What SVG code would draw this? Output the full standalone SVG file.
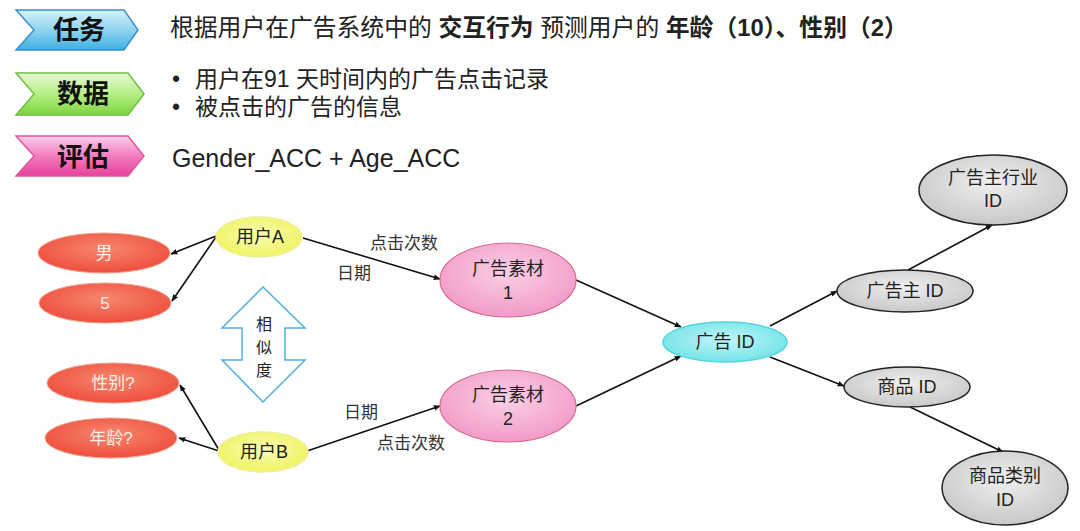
<svg xmlns="http://www.w3.org/2000/svg" width="1080" height="531" viewBox="0 0 1080 531">
<defs>
<linearGradient id="gBlue" x1="0" y1="0" x2="0" y2="1"><stop offset="0" stop-color="#d6f1fb"/><stop offset="0.5" stop-color="#8fd3f0"/><stop offset="1" stop-color="#3fb0e2"/></linearGradient>
<linearGradient id="gGreen" x1="0" y1="0" x2="0" y2="1"><stop offset="0" stop-color="#e6fbd2"/><stop offset="0.5" stop-color="#b6ee86"/><stop offset="1" stop-color="#7fd43e"/></linearGradient>
<linearGradient id="gPink" x1="0" y1="0" x2="0" y2="1"><stop offset="0" stop-color="#fbd0ea"/><stop offset="0.5" stop-color="#f47cc0"/><stop offset="1" stop-color="#e8409c"/></linearGradient>
<radialGradient id="gRed" cx="0.5" cy="0.4" r="0.6"><stop offset="0" stop-color="#f7876f"/><stop offset="1" stop-color="#ee4e3c"/></radialGradient>
<radialGradient id="gYellow" cx="0.5" cy="0.45" r="0.6"><stop offset="0" stop-color="#fafcb4"/><stop offset="1" stop-color="#eef35a"/></radialGradient>
<radialGradient id="gMat" cx="0.5" cy="0.4" r="0.6"><stop offset="0" stop-color="#fad0e6"/><stop offset="1" stop-color="#f29ac8"/></radialGradient>
<radialGradient id="gCyan" cx="0.5" cy="0.45" r="0.6"><stop offset="0" stop-color="#c2f6f6"/><stop offset="1" stop-color="#6ee2e8"/></radialGradient>
<radialGradient id="gGray" cx="0.5" cy="0.4" r="0.6"><stop offset="0" stop-color="#efefef"/><stop offset="1" stop-color="#c8c8c8"/></radialGradient>
<marker id="arr" viewBox="0 0 10 10" refX="9" refY="5" markerWidth="7" markerHeight="7" orient="auto" markerUnits="userSpaceOnUse"><path d="M0,1 L10,5 L0,9 z" fill="#111"/></marker>
</defs>
<style>
.hd{font-family:"Liberation Sans","Noto Sans CJK SC",sans-serif;font-size:23px;fill:#222;}
.b{font-weight:bold;}
.tag{font-family:"Noto Sans CJK SC",sans-serif;font-size:26px;font-weight:bold;fill:#111;text-anchor:middle;}
.lbl{font-family:"Liberation Sans","Noto Sans CJK SC",sans-serif;font-size:16px;fill:#222;text-anchor:middle;}
.big{font-size:18px;}
.wlbl{font-family:"Liberation Sans","Noto Sans CJK SC",sans-serif;font-size:17px;fill:#fdeee8;text-anchor:middle;}
.el{font-family:"Liberation Sans","Noto Sans CJK SC",sans-serif;font-size:17px;fill:#333;text-anchor:middle;}
.conn line{stroke:#111;stroke-width:1.6;marker-end:url(#arr);}
.red{fill:url(#gRed);stroke:#f0a090;stroke-width:1;}
.gray{fill:url(#gGray);stroke:#222;stroke-width:1.5;}
</style>
<rect width="1080" height="531" fill="#ffffff"/>

<g id="tag-task">
<path d="M16,10 L124,10 L138,30 L124,50 L16,50 L34,30 Z" fill="url(#gBlue)" stroke="#3a90c8" stroke-width="1.5"/>
<text x="79" y="39" class="tag">任务</text>
</g>
<g id="tag-data">
<path d="M16,73 L128,73 L144,94 L128,115 L16,115 L34,94 Z" fill="url(#gGreen)" stroke="#6cc040" stroke-width="1.5"/>
<text x="83" y="103" class="tag">数据</text>
</g>
<g id="tag-eval">
<path d="M16,136 L128,136 L144,156 L128,176 L16,176 L34,156 Z" fill="url(#gPink)" stroke="#e0589c" stroke-width="1.5"/>
<text x="83" y="166" class="tag">评估</text>
</g>

<text x="170" y="36" class="hd" style="font-size:23.8px">根据用户在广告系统中的 <tspan class="b">交互行为</tspan> 预测用户的 <tspan class="b">年龄（10）、性别（2）</tspan></text>
<text x="172" y="87" class="hd">•</text>
<text x="195" y="87" class="hd">用户在91 天时间内的广告点击记录</text>
<text x="172" y="115" class="hd">•</text>
<text x="195" y="115" class="hd">被点击的广告的信息</text>
<text x="172" y="167" style="font-family:'Liberation Sans',sans-serif;font-size:25px;fill:#222">Gender_ACC + Age_ACC</text>

<g id="connectors" class="conn">
<line x1="216" y1="236" x2="171" y2="254"/>
<line x1="216" y1="237" x2="172" y2="301"/>
<line x1="219" y1="450" x2="180" y2="385"/>
<line x1="219" y1="451" x2="179" y2="438"/>
<line x1="303" y1="238" x2="440" y2="279"/>
<line x1="307" y1="451" x2="440" y2="406"/>
<line x1="576" y1="280" x2="681" y2="327"/>
<line x1="576" y1="406" x2="681" y2="356"/>
<line x1="770" y1="326" x2="837" y2="291"/>
<line x1="908" y1="270" x2="992" y2="225"/>
<line x1="770" y1="357" x2="844" y2="386"/>
<line x1="910" y1="407" x2="1003" y2="452"/>
</g>
<g id="edge-labels">
<text x="404" y="249" class="el">点击次数</text>
<text x="354" y="279" class="el">日期</text>
<text x="361" y="418" class="el">日期</text>
<text x="411" y="449" class="el">点击次数</text>
</g>

<g id="node-male"><ellipse cx="104" cy="253" rx="66" ry="20" class="red"/><text x="104" y="259" class="wlbl">男</text></g>
<g id="node-5"><ellipse cx="105" cy="303" rx="66" ry="20" class="red"/><text x="105" y="309" class="wlbl">5</text></g>
<g id="node-gender"><ellipse cx="113" cy="383" rx="66" ry="20" class="red"/><text x="113" y="389" class="wlbl">性别?</text></g>
<g id="node-age"><ellipse cx="111" cy="438" rx="66" ry="20" class="red"/><text x="111" y="444" class="wlbl">年龄?</text></g>

<g id="node-userA"><ellipse cx="259" cy="237" rx="43" ry="20" fill="url(#gYellow)" stroke="#eef0a0" stroke-width="1.5"/><text x="260" y="243" class="lbl big">用户A</text></g>
<g id="node-userB"><ellipse cx="263" cy="452" rx="45" ry="20" fill="url(#gYellow)" stroke="#eef0a0" stroke-width="1.5"/><text x="264" y="458" class="lbl big">用户B</text></g>

<g id="similarity">
<path d="M263,287 L305,328 L285,328 L285,360 L305,360 L263,402 L222,360 L242,360 L242,328 L222,328 Z" fill="#ffffff" stroke="#4fb0e0" stroke-width="1.5"/>
<text x="264" y="330" class="lbl">相</text>
<text x="264" y="353" class="lbl">似</text>
<text x="264" y="376" class="lbl">度</text>
</g>

<g id="node-mat1"><ellipse cx="508" cy="280" rx="68" ry="37" fill="url(#gMat)" stroke="#d86a8a" stroke-width="1.2"/><text x="508" y="275" class="lbl big">广告素材</text><text x="508" y="299" class="lbl big">1</text></g>
<g id="node-mat2"><ellipse cx="508" cy="406" rx="68" ry="36" fill="url(#gMat)" stroke="#d86a8a" stroke-width="1.2"/><text x="508" y="401" class="lbl big">广告素材</text><text x="508" y="425" class="lbl big">2</text></g>

<g id="node-adid"><ellipse cx="725" cy="342" rx="62" ry="20" fill="url(#gCyan)" stroke="#52d6dc" stroke-width="1.5"/><text x="725" y="348" class="lbl big">广告 ID</text></g>
<g id="node-advertiser"><ellipse cx="905" cy="291" rx="68" ry="21" class="gray"/><text x="905" y="297" class="lbl big">广告主 ID</text></g>
<g id="node-industry"><ellipse cx="993" cy="190" rx="74" ry="35" class="gray"/><text x="993" y="184" class="lbl big">广告主行业</text><text x="993" y="207" class="lbl big">ID</text></g>
<g id="node-product"><ellipse cx="907" cy="387" rx="63" ry="20" class="gray"/><text x="907" y="393" class="lbl big">商品 ID</text></g>
<g id="node-category"><ellipse cx="1005" cy="488" rx="63" ry="37" class="gray"/><text x="1005" y="482" class="lbl big">商品类别</text><text x="1005" y="506" class="lbl big">ID</text></g>
</svg>
